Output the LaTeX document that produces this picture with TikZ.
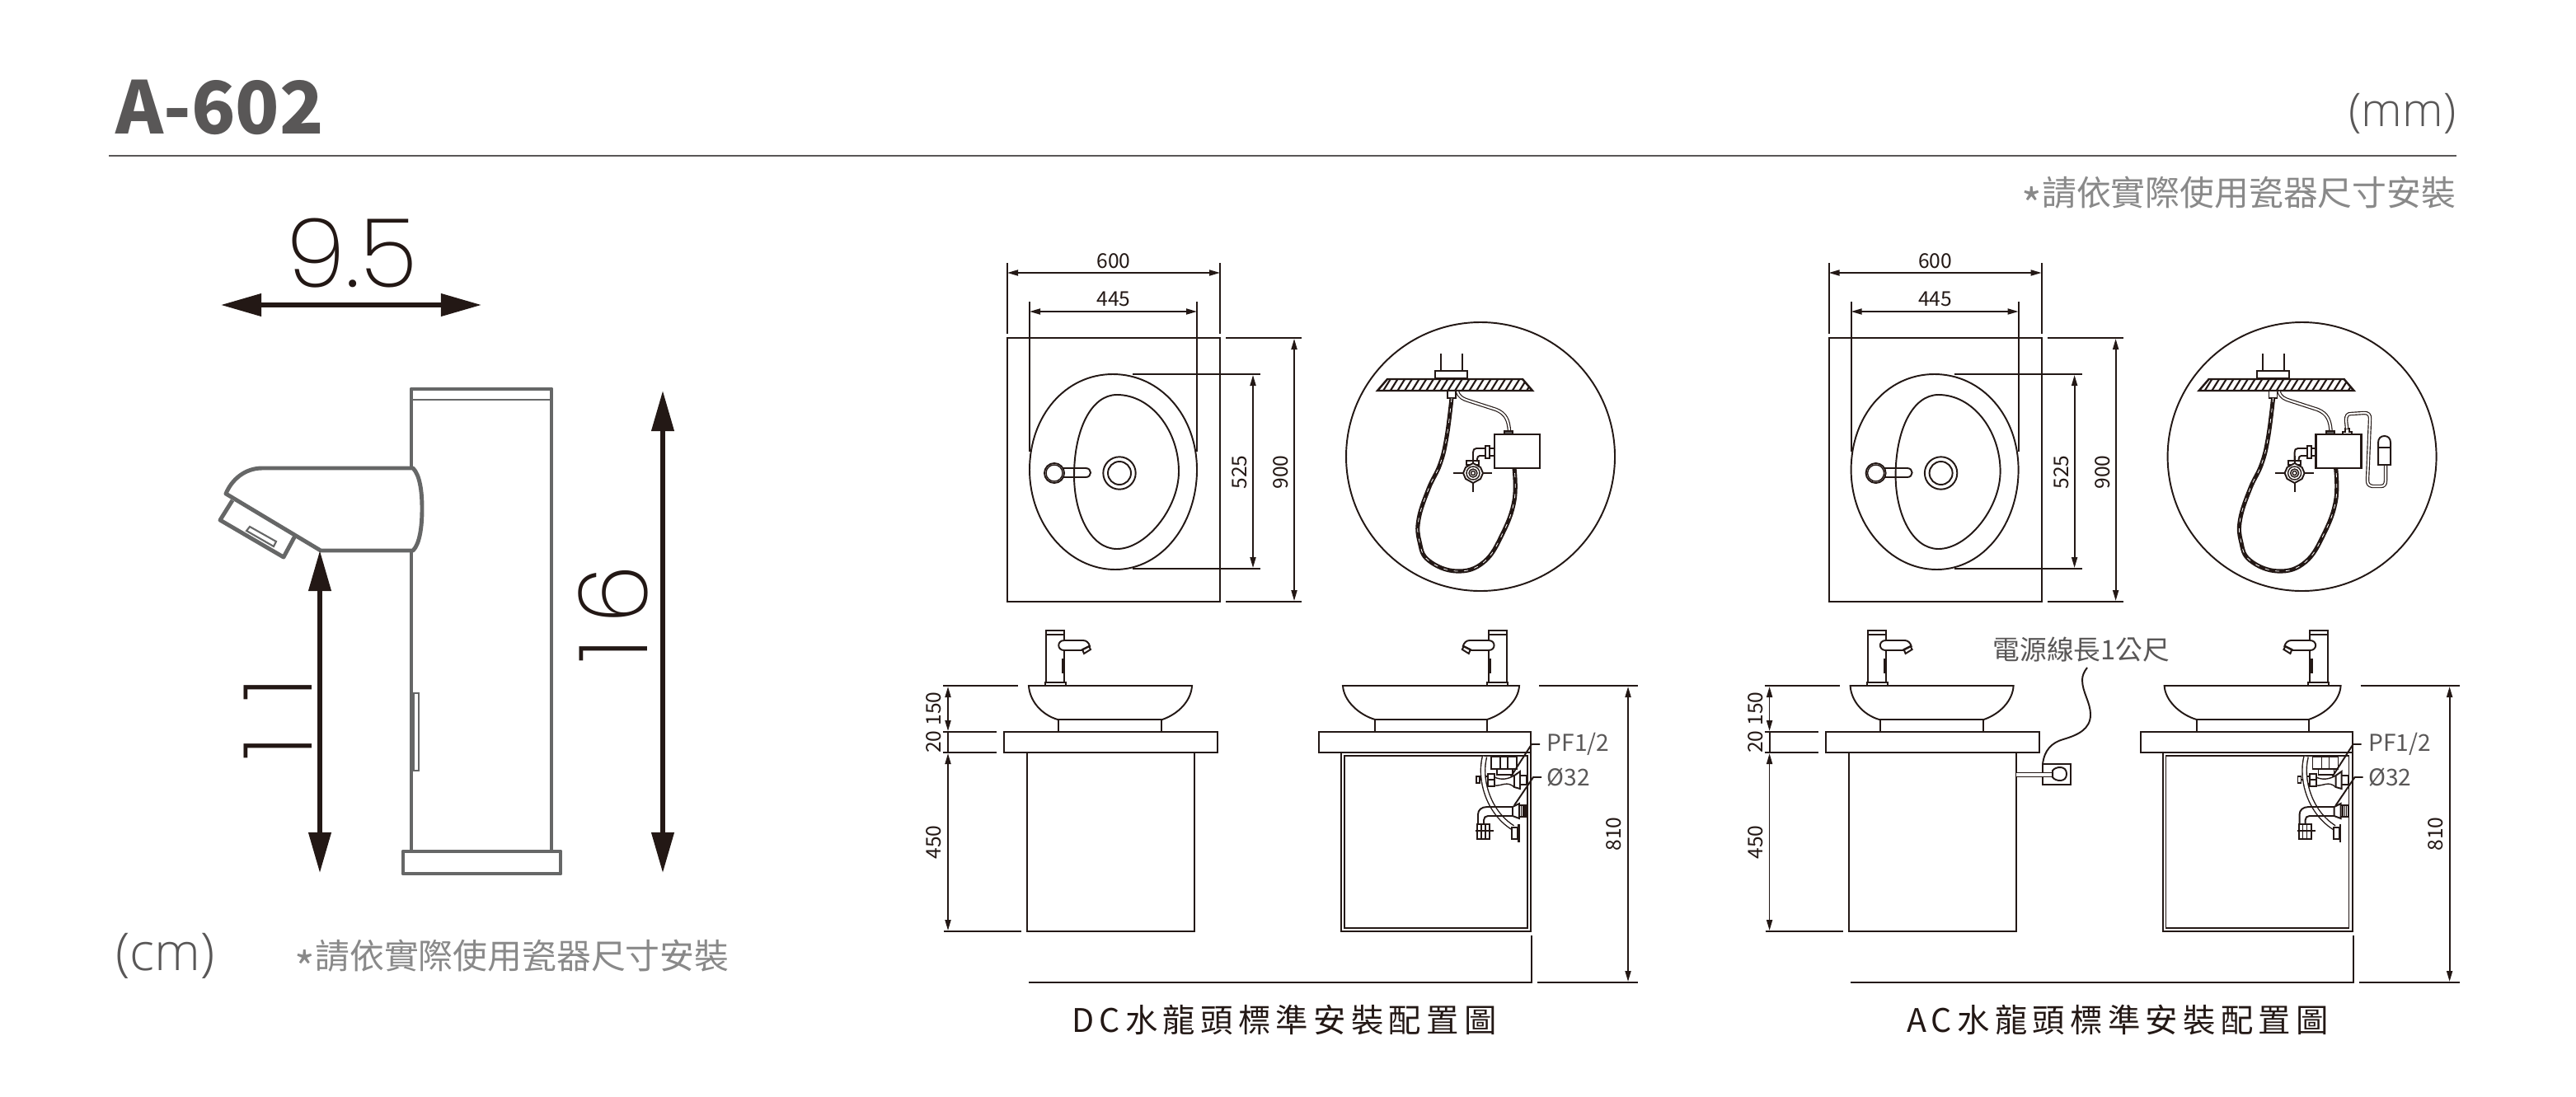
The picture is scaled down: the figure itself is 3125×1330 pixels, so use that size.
\documentclass[tikz,border=0pt]{standalone}
\usepackage{fontspec}
\setmainfont{Noto Sans CJK TC}
\newfontfamily\thinfont{Poppins ExtraLight}
\newfontfamily\thinfontA[LetterSpace=35]{Poppins ExtraLight}
\newfontfamily\thinfontB[LetterSpace=15]{Poppins ExtraLight}
\newfontfamily\unitfont{Open Sans Light}
\newfontfamily\spaced[LetterSpace=16]{Noto Sans CJK TC}
\usetikzlibrary{arrows.meta}
\definecolor{ink}{HTML}{231815}
\definecolor{darkgray}{HTML}{595757}
\definecolor{fgray}{HTML}{666767}
\definecolor{midgray}{HTML}{898989}
\newcommand\fsz[1]{\fontsize{#1pt}{#1pt}\selectfont}
\tikzset{
  ln/.style={draw=ink,line width=.55pt},
  thinln/.style={draw=ink,line width=.4pt},
  dimln/.style={draw=ink,line width=.5pt,{Triangle[length=3.7pt,width=2pt]}-{Triangle[length=3.7pt,width=2pt]}},
  bigdim/.style={draw=ink,line width=1.5pt,{Triangle[length=14pt,width=7.6pt]}-{Triangle[length=14pt,width=7.6pt]}},
  tube/.style={draw=ink,double=white,double distance=.6pt,line width=.33pt},
  dimtext/.style={text=ink,inner sep=0pt,font=\fsz{7}},
  vdimtext/.style={dimtext,rotate=90},
  bigtext/.style={text=ink,inner sep=0pt,font=\thinfont\fsz{33}},
  unit/.style={text=darkgray,inner sep=0pt,font=\unitfont\fsz{16}},
  note/.style={text=midgray,inner sep=0pt,font=\fsz{11.9}},
  calltext/.style={text=darkgray,inner sep=0pt,font=\fsz{8}},
  titletext/.style={text=ink,inner sep=0pt,font=\spaced\fsz{11.2}},
  fauc/.style={draw=fgray,line width=1.4pt,line join=round},
}
\newcommand\planview{%
  \draw[ln] (1222,410) rectangle (1480,730);
  \draw[ln] (1222,319) -- (1222,405) (1480,319) -- (1480,405);
  \draw[dimln] (1222,331) -- (1480,331);
  \node[dimtext] (dim600) at (1351,317) {600};
  \draw[ln] (1249,366) -- (1249,548) (1452,366) -- (1452,548);
  \draw[dimln] (1249,378) -- (1452,378);
  \node[dimtext] (dim445) at (1351,363) {445};
  \draw[ln] (1350,454) .. controls (1408,454) and (1452,505) .. (1452,570)
     .. controls (1452,635) and (1410,691) .. (1353,691)
     .. controls (1295,691) and (1249,635) .. (1249,570)
     .. controls (1249,505) and (1292,454) .. (1350,454) -- cycle;
  \draw[ln] (1355,479) .. controls (1397,479) and (1430,523) .. (1430,572)
     .. controls (1430,617) and (1390,666) .. (1355,666)
     .. controls (1323,666) and (1303,623) .. (1303,577)
     .. controls (1303,523) and (1323,479) .. (1355,479) -- cycle;
  \draw[ln] (1279,574) circle[radius=12];
  \draw[thinln] (1279,574) circle[radius=10];
  \draw[ln] (1289,568) -- (1317,568) .. controls (1325,568) and (1325,579) .. (1317,579) -- (1289,579);
  \draw[ln] (1358,574) circle[radius=19.7];
  \draw[ln] (1358,574) circle[radius=14];
  \draw[ln] (1374,454) -- (1529,454) (1374,690) -- (1529,690);
  \draw[dimln] (1520,455) -- (1520,689);
  \node[vdimtext] (dim525) at (1504,573) {525};
  \draw[ln] (1487,410) -- (1579,410) (1487,730) -- (1579,730);
  \draw[dimln] (1570,411) -- (1570,729);
  \node[vdimtext] (dim900) at (1554,573) {900};
  % detail circle
  \draw[ln] (1796,554) circle[radius=163];
  \draw[ln] (1748,429) -- (1748,450) (1774,429) -- (1774,450);
  \draw[ln] (1741,459) rectangle (1780,450);
  \begin{scope}
    \clip (1683,460) -- (1847,460) -- (1859,474) -- (1671,474) -- cycle;
    \foreach \hx in {1660,1668.7,...,1860} {\draw[thinln,line width=.6pt] (\hx,475) -- (\hx+10,459);}
  \end{scope}
  \draw[ln,line width=.7pt] (1683,460) -- (1847,460) -- (1859,474) -- (1671,474) -- cycle;
  \draw[thinln,fill=white] (1756,474) rectangle (1766,483);
  \draw[tube] (1768,475) .. controls (1770,482) and (1775,484) .. (1781,486) -- (1815,497) .. controls (1827,502) and (1830,510) .. (1831,523);
  \draw[ln,fill=darkgray] (1825,523) rectangle (1835,527);
  \draw[ln,line width=.7pt] (1813,527) rectangle (1868,568);
  \draw[draw=ink,line width=1.45pt] plot[smooth,tension=.7] coordinates {(1761,483) (1755,530) (1747,563) (1733,593) (1721,630) (1722,657) (1733,680) (1767,693) (1800,682) (1823,647) (1837,607) (1837,568)};
  \draw[draw=white,line width=.22pt,dash pattern=on 1.4pt off 2.2pt] plot[smooth,tension=.7] coordinates {(1761,483) (1755,530) (1747,563) (1733,593) (1721,630) (1722,657) (1733,680) (1767,693) (1800,682) (1823,647) (1837,607) (1837,568)};
  \draw[ln] (1813,544) -- (1807,544) (1813,553) -- (1807,553);
  \draw[ln] (1802,541) rectangle (1807,556);
  \draw[ln] (1802,544) -- (1791,544) .. controls (1788,544) and (1787,546) .. (1787,549) -- (1787,560);
  \draw[ln] (1802,553) -- (1795,553) .. controls (1793,553) and (1792,555) .. (1792,557) -- (1792,560);
  \draw[ln] (1779,559) rectangle (1794,564);
  \draw[ln] (1763,574) -- (1810,574) (1787,553) -- (1787,597);
  \draw[ln,fill=white] (1787,562) -- (1796,567) -- (1799,574) -- (1796,581) -- (1787,586) -- (1778,581) -- (1775,574) -- (1778,567) -- cycle;
  \draw[thinln] (1787,574) circle[radius=8] (1787,574) circle[radius=5] (1787,574) circle[radius=2.5];
}
\newcommand\smallfaucet{%
  \draw[ln] (1269,828) -- (1269,765) -- (1291,765) -- (1291,777) (1291,789) -- (1291,828);
  \draw[ln] (1269,770) -- (1291,770);
  \draw[ln] (1268,828) rectangle (1293,832);
  \draw[ln] (1291,777) -- (1314,777) .. controls (1318,777) and (1321,780) .. (1322,784) -- (1312,789) -- (1291,789) .. controls (1282,789) and (1282,777) .. (1291,777) -- cycle;
  \draw[ln] (1313,788) -- (1321,784) -- (1323,788) -- (1315,793) -- cycle;
  \draw[draw=ink,line width=.9pt] (1289.5,799) -- (1289.5,817);
}
\newcommand\elevations{%
  \draw[ln] (1144,832) -- (1235,832);
  \draw[ln] (1144,888) -- (1209,888) (1144,913) -- (1209,913);
  \draw[ln] (1145,1130) -- (1239,1130);
  \draw[dimln] (1150,833) -- (1150,887);
  \draw[dimln] (1150,914) -- (1150,1129);
  \draw[ln] (1150,888) -- (1150,913);
  \node[vdimtext] (dim150) at (1133,860) {150};
  \node[vdimtext] (dim20) at (1133,900) {20};
  \node[vdimtext] (dim450) at (1133,1022) {450};
  \draw[ln] (1218,888) rectangle (1477,913);
  \draw[ln] (1246,913) rectangle (1449,1130);
  \draw[ln] (1284,873) rectangle (1409,888);
  \draw[ln] (1248,832) -- (1446,832) .. controls (1445,850) and (1430,866) .. (1410,873) -- (1283,873) .. controls (1263,867) and (1249,850) .. (1248,832) -- cycle;
  \smallfaucet
  \draw[ln] (1629,832) -- (1843,832) .. controls (1842,850) and (1825,866) .. (1804,873) -- (1668,873) .. controls (1648,867) and (1630,850) .. (1629,832) -- cycle;
  \draw[ln] (1668,873) rectangle (1804,888);
  \draw[ln] (1600,888) rectangle (1857,913);
  \draw[ln] (1627,913) rectangle (1857,1130);
  \draw[thinln] (1631,917) rectangle (1853,1126);
  \begin{scope}[xscale=-1,xshift=-30.95cm]
    \smallfaucet
  \end{scope}
  \draw[ln] (1867,832) -- (1987,832) (1865,1192) -- (1987,1192);
  \draw[dimln] (1975,833) -- (1975,1191);
  \node[vdimtext] (dim810) at (1958,1012) {810};
  \draw[ln] (1248,1192) -- (1858,1192) -- (1858,1135);
  \draw[thinln] (1809,918) rectangle (1840,933) (1820,918) -- (1820,933) (1829,918) -- (1829,933);
  \draw[thinln] (1816,933) rectangle (1835,940);
  \draw[thinln] (1791,942) rectangle (1795,950) (1795,946) -- (1801,946);
  \draw[thinln] (1801,942) rectangle (1805,951);
  \draw[ln] (1805,939) rectangle (1813,954) (1805,946) -- (1813,946);
  \draw[thinln] (1813,943) .. controls (1822,947) and (1830,945) .. (1837,941);
  \draw[thinln] (1813,953) .. controls (1822,954) and (1828,947) .. (1837,955);
  \draw[ln] (1837,941) -- (1844,936) -- (1844,957) -- (1837,955) -- cycle;
  \draw[thinln] (1844,941) rectangle (1852,952);
  \draw[draw=ink,double=white,double distance=1.1pt,line width=.4pt] (1801,918) .. controls (1794,945) and (1805,985) .. (1835,1004);
  \draw[ln] (1835,979) -- (1804,979) .. controls (1797,979) and (1793,983) .. (1793,988) -- (1793,1000);
  \draw[ln] (1835,990) -- (1805,990) .. controls (1802,990) and (1800,992) .. (1800,995) -- (1800,1000);
  \draw[ln] (1835,979) -- (1843,975) -- (1843,993) -- (1835,990) -- cycle;
  \draw[thinln] (1843,977) rectangle (1852,991) (1845.5,977) -- (1845.5,991) (1848,977) -- (1848,991) (1850,977) -- (1850,991);
  \draw[ln] (1792,1000) rectangle (1807,1018) (1790,1008) -- (1812,1008);
  \draw[thinln] (1797,1000) -- (1797,1018) (1802,1000) -- (1802,1018);
  \draw[ln] (1834,1004) rectangle (1841,1018);
  \draw[ln,line width=.7pt] (1842.5,1000) -- (1842.5,1022);
  \node[calltext,anchor=west] (pf) at (1876,903) {PF1/2};
  \node[calltext,anchor=west] (d32) at (1876,943) {Ø32};
  \draw[ln] (pf.west) ++(-8,0) -- (1858,903) -- (1833,942);
  \draw[ln] (d32.west) ++(-6,0) -- (1860,943) -- (1837,977);
}
\newcommand\asterisknote{\raisebox{-5.4pt}{\fontsize{15pt}{15pt}\selectfont *}請依實際使用瓷器尺寸安裝}
\begin{document}
\begin{tikzpicture}[x=0.01cm,y=-0.01cm]
\useasboundingbox (0,0) rectangle (3125,1330);
\fill[white] (0,0) rectangle (3125,1330);
% header
\node[text=darkgray,inner sep=0pt,anchor=west,font=\bfseries\fsz{25}] (title) at (140,130) {A-602};
\node[unit,anchor=east] (mm) at (2980,138) {(mm)};
\draw[draw=darkgray,line width=.6pt] (132,189) -- (2980,189);
\node[note,anchor=east] (note1) at (2980,241) {\asterisknote};
% big faucet
\draw[fauc] (499,568) -- (499,472) -- (669,472) -- (669,1033);
\draw[fauc] (499,668) -- (499,1033);
\draw[draw=fgray,line width=.6pt] (499,485) -- (669,485);
\draw[fauc] (489,1033) rectangle (680,1060);
\draw[fauc] (501,568) -- (318,568) .. controls (297,568) and (281,582) .. (274,599) -- (389,668) -- (501,668) .. controls (509,660) and (512,640) .. (512,617) .. controls (512,595) and (509,576) .. (501,568) -- cycle;
\draw[fauc] (282,607) -- (267,631) -- (344,676) -- (358,650);
\draw[draw=fgray,line width=.6pt] (303,639) -- (335,657) -- (332,663) -- (299,644) -- cycle;
\draw[draw=fgray,line width=.6pt] (502,841) rectangle (508,935);
\draw[bigdim] (268,370) -- (584,370);
\draw[bigdim] (388,668) -- (388,1059);
\draw[bigdim] (804,474) -- (804,1059);
\node[bigtext] (d95) at (427,307) {9.5};
\node[bigtext,rotate=90,font=\thinfontA\fsz{33}] (d11) at (337,872) {11};
\node[bigtext,rotate=90,font=\thinfontB\fsz{33}] (d16) at (744,745) {16};
\node[unit,anchor=west,font=\unitfont\fsz{18}] (cm) at (140,1160) {(cm)};
\node[note,anchor=west] (note2) at (357,1167) {\asterisknote};
% DC
\planview
\elevations
\node[titletext] (dctitle) at (1558,1237) {DC水龍頭標準安裝配置圖};
% AC
\begin{scope}[xshift=9.96cm,name prefix=ac-]
\planview
\elevations
\end{scope}
\draw[ln] (2842,527) -- (2842,524) -- (2845,524) -- (2845,520) -- (2850,520) -- (2850,524) -- (2853,524) -- (2853,527);
\draw[tube] (2847,520) -- (2846,510) .. controls (2846,504) and (2848,502) .. (2852,502) -- (2868,501) .. controls (2873,501) and (2875,503) .. (2875,508) -- (2872,582) .. controls (2872,587) and (2873,589) .. (2878,590) -- (2888,590) .. controls (2892,590) and (2894,588) .. (2894,583) -- (2894,565);
\draw[ln,fill=white] (2885,564) -- (2885,537) .. controls (2885,532) and (2888,529) .. (2892.5,529) .. controls (2897,529) and (2900,532) .. (2900,537) -- (2900,564) -- cycle;
\draw[ln] (2885,543) -- (2900,543);
\draw[ln] (2478,927) rectangle (2512,952);
\draw[tube,double distance=1.1pt] (2446,940) -- (2489,940);
\draw[ln,fill=white] (2490,935) .. controls (2493,930) and (2507,928) .. (2507,939) .. controls (2507,950) and (2493,948) .. (2490,943) -- cycle;
\draw[ln] (2478,927) .. controls (2480,910) and (2489,901) .. (2503,897) .. controls (2520,892) and (2536,885) .. (2536,867) .. controls (2536,852) and (2526,840) .. (2526,825) .. controls (2526,820) and (2528,815) .. (2532,810);
\node[calltext,font=\fsz{9.3}] (power) at (2525,788) {電源線長1公尺};
\node[titletext] (actitle) at (2569,1237) {AC水龍頭標準安裝配置圖};
\end{tikzpicture}
\end{document}
